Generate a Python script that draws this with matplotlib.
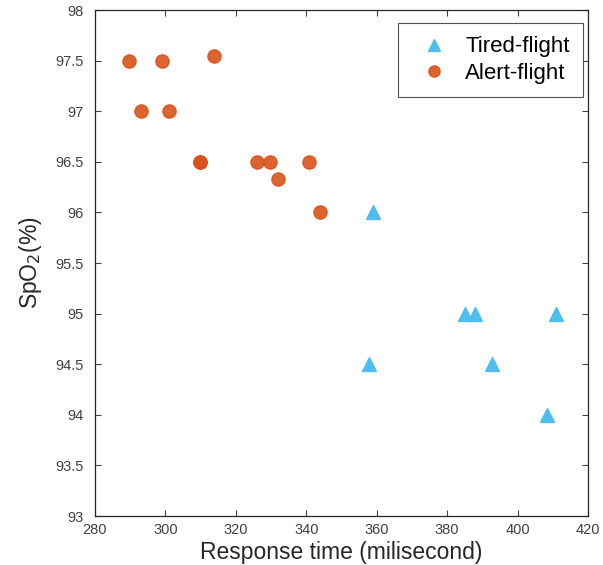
import matplotlib
matplotlib.use("Agg")
import matplotlib.pyplot as plt
from matplotlib.ticker import FuncFormatter

tired_x = [358.9, 385.1, 388.0, 411.0, 357.8, 392.7, 408.5]
tired_y = [96.0, 95.0, 95.0, 95.0, 94.5, 94.5, 94.0]
alert_x = [289.7, 298.9, 313.9, 293.2, 301.1, 309.7, 309.7, 326.0, 329.8, 332.1, 340.9, 343.9]
alert_y = [97.5, 97.5, 97.55, 97.0, 97.0, 96.5, 96.5, 96.5, 96.5, 96.33, 96.5, 96.0]
x_ticks = [280, 300, 320, 340, 360, 380, 400, 420]
y_ticks = [93, 93.5, 94, 94.5, 95, 95.5, 96, 96.5, 97, 97.5, 98]

plt.rcParams['font.family'] = ['Liberation Sans', 'DejaVu Sans']
fig = plt.figure(figsize=(6.03, 5.65), dpi=100)
ax = fig.add_axes([0.1575, 0.0867, 0.8175, 0.8956])

blue = '#4DBEEE'
orange = '#D95319'
ax.plot(tired_x, tired_y, linestyle='none', marker='^', markersize=10,
        color=blue, markeredgecolor=blue, label='Tired-flight')
ax.plot(alert_x, alert_y, linestyle='none', marker='o', markersize=9.5,
        color=orange, markeredgecolor=orange, alpha=0.9, label='Alert-flight')

ax.set_xlim(280, 420)
ax.set_ylim(93, 98)
ax.set_xticks(x_ticks)
ax.set_yticks(y_ticks)
ax.yaxis.set_major_formatter(FuncFormatter(lambda v, p: f'{v:g}'))
ax.xaxis.set_major_formatter(FuncFormatter(lambda v, p: f'{v:g}'))
ax.tick_params(direction='in', length=4, width=0.8, labelsize=10.5,
               colors='#404040', top=True, right=True)
ax.tick_params(axis='y', pad=8)
ax.tick_params(axis='x', pad=5)
for s in ax.spines.values():
    s.set_color('#262626')
    s.set_linewidth(0.9)
ax.set_xlabel('Response time (milisecond)', fontsize=16.5, color='#262626', labelpad=3)
ax.set_ylabel('SpO$_2$(%)', fontsize=16.5, color='#262626', labelpad=8)
leg = ax.legend(loc='upper right', bbox_to_anchor=(0.99, 0.974), fontsize=16,
                frameon=True, fancybox=False, edgecolor='#262626',
                borderaxespad=0.0, handletextpad=0.37, handlelength=2.05,
                borderpad=0.6, labelspacing=0.25, markerscale=0.85)
leg.get_frame().set_linewidth(0.8)

fig.savefig('out.png', dpi=100)
